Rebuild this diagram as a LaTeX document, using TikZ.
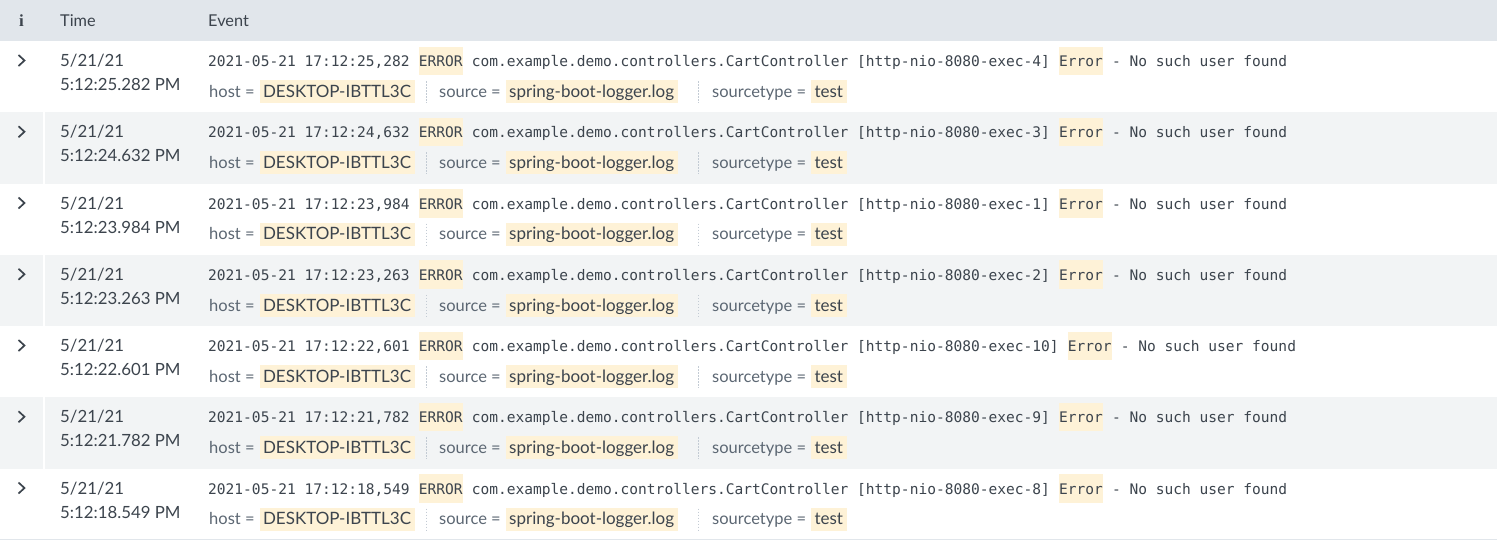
\documentclass[tikz,border=0pt]{standalone}
\usepackage{fontspec}
\setmainfont{Lato}
\setmonofont{DejaVu Sans Mono}
\newfontfamily\iconfont{Liberation Serif}
\usetikzlibrary{positioning}

\definecolor{headbg}{HTML}{E1E6EB}
\definecolor{altbg}{HTML}{F2F4F5}
\definecolor{hilite}{HTML}{FEF2D7}
\definecolor{ink}{HTML}{3C444D}
\definecolor{keyink}{HTML}{5C6773}
\definecolor{sepline}{HTML}{C3CBD4}

\newcommand\charw{8.76pt}
\newcommand\rowstep{71.25}

\tikzset{
  every node/.style={inner sep=0pt, text=ink},
  headtext/.style={anchor=base west, font=\fontsize{16.3pt}{19pt}\selectfont},
  infoicon/.style={anchor=base, font=\iconfont\bfseries\fontsize{17pt}{19pt}\selectfont},
  timetext/.style={anchor=base west, font=\fontsize{16.8pt}{19pt}\selectfont},
  monotext/.style={anchor=base west, font=\ttfamily\fontsize{14.55pt}{17pt}\selectfont},
  monomark/.style={monotext, fill=hilite, text height=20pt, text depth=8.3pt},
  keytext/.style={anchor=base west, text=keyink, font=\fontsize{16.5pt}{19pt}\selectfont},
  fieldval/.style={anchor=base west, fill=hilite, inner xsep=3.5pt, text height=17.3pt, text depth=5.7pt, font=\fontsize{17pt}{19pt}\selectfont},
  fieldsep/.style={sepline, line width=1pt, dash pattern=on 1.5pt off 1.5pt},
  chevron/.style={ink, line width=1.7pt}
}

% #1 row, #2 background, #3 shown seconds, #4 logged seconds, #5 exec thread
\newcommand\eventrow[5]{%
  \pgfmathsetmacro\rtop{41+(#1-1)*\rowstep}
  \fill[#2] (0,\rtop) rectangle (1497,\rtop+\rowstep);
  \draw[white, line width=1.5pt] (44,\rtop) -- (44,\rtop+\rowstep);
  \draw[chevron] (18.5,\rtop+14) -- (24.5,\rtop+19.5) -- (18.5,\rtop+25);
  \node[timetext] (date#1) at (60,\rtop+25.7) {5/21/21};
  \node[timetext] (time#1) at (60,\rtop+49.7) {5:12:#3 PM};
  \node[monotext] (ts#1) at (208,\rtop+25.7) {2021-05-21 17:12:#4};
  \node[monomark, base right=\charw of ts#1] (lvl#1) {ERROR};
  \node[monotext, base right=\charw of lvl#1] (cls#1) {com.example.demo.controllers.CartController [http-nio-8080-exec-#5]};
  \node[monomark, base right=\charw of cls#1] (err#1) {Error};
  \node[monotext, base right=\charw of err#1] (msg#1) {- No such user found};
  \node[keytext] (hostkey#1) at (209,\rtop+56.3) {host =};
  \node[fieldval, base right=4.5pt of hostkey#1] (host#1) {DESKTOP-IBTTL3C};
  \draw[fieldsep] (426,\rtop+40) -- (426,\rtop+62);
  \node[keytext] (srckey#1) at (439,\rtop+56.3) {source =};
  \node[fieldval, base right=4.5pt of srckey#1] (src#1) {spring-boot-logger.log};
  \draw[fieldsep] (698,\rtop+40) -- (698,\rtop+62);
  \node[keytext] (typekey#1) at (712,\rtop+56.3) {sourcetype =};
  \node[fieldval, base right=4.5pt of typekey#1] (type#1) {test};
}

\begin{document}
\begin{tikzpicture}[x=1pt,y=-1pt]
\useasboundingbox (0,0) rectangle (1497,542);
\fill[white] (0,0) rectangle (1497,542);
% header
\fill[headbg] (0,0) rectangle (1497,41);
\node[infoicon] (info) at (21.5,26) {i};
\node[headtext] (timehead) at (60,26) {Time};
\node[headtext] (eventhead) at (208,26) {Event};
% events
\eventrow{1}{white}{25.282}{25,282}{4}
\eventrow{2}{altbg}{24.632}{24,632}{3}
\eventrow{3}{white}{23.984}{23,984}{1}
\eventrow{4}{altbg}{23.263}{23,263}{2}
\eventrow{5}{white}{22.601}{22,601}{10}
\eventrow{6}{altbg}{21.782}{21,782}{9}
\eventrow{7}{white}{18.549}{18,549}{8}
\draw[headbg, line width=1pt] (0,539.75) -- (1497,539.75);
\end{tikzpicture}
\end{document}
